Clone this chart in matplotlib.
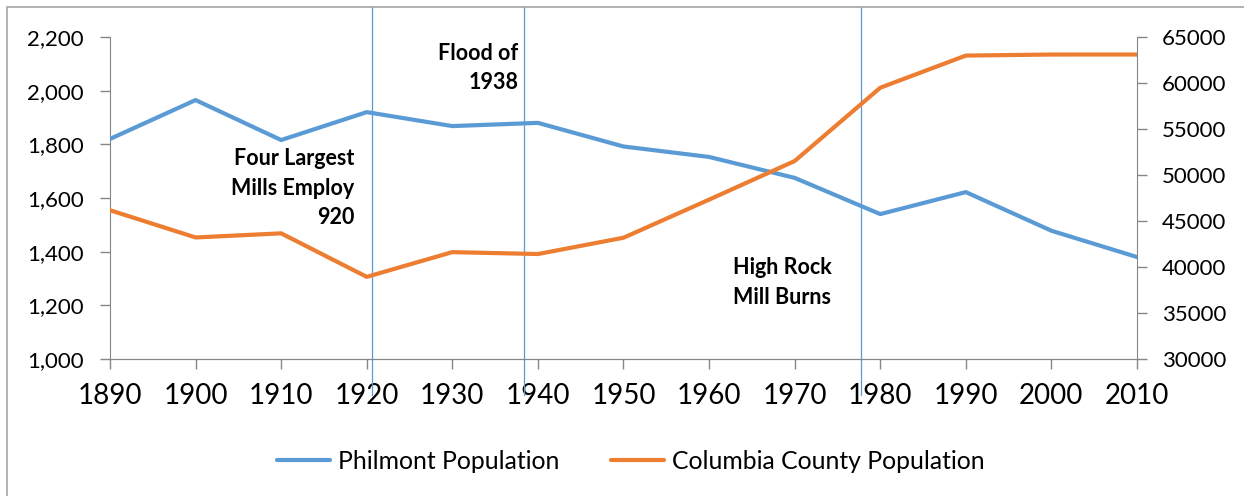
import matplotlib.pyplot as plt
from matplotlib.patches import Rectangle
from matplotlib.ticker import FuncFormatter

plt.rcParams['font.family'] = ['Lato', 'DejaVu Sans']

years = [1890, 1900, 1910, 1920, 1930, 1940, 1950, 1960, 1970, 1980, 1990, 2000, 2010]
philmont = [1820, 1965, 1816, 1920, 1868, 1880, 1792, 1753, 1675, 1540, 1622, 1478, 1380]
columbia = [46172, 43211, 43658, 38930, 41617, 41410, 43182, 47322, 51519, 59487, 62982, 63094, 63096]

event_years = [1920.6, 1938.4, 1977.8]
event_text = ["Four Largest\nMills Employ\n920", "Flood of\n1938", "High Rock\nMill Burns"]
event_pos = [(1918.6, 1637), (1937.7, 2084), (1974.3, 1285)]  # right edge x, middle y

blue = '#5B9BD5'
orange = '#ED7D31'
grey = '#868686'

fig = plt.figure(figsize=(12.44, 4.96), dpi=100)
ax = fig.add_axes([0.0884, 0.2762, 0.8256, 0.6492])
ax2 = ax.twinx()

l1, = ax.plot(years, philmont, color=blue, lw=3, solid_capstyle='round', zorder=3)
l2, = ax2.plot(years, columbia, color=orange, lw=3, solid_capstyle='round')

ax.set_xlim(1890, 2010)
ax.set_ylim(1000, 2200)
ax2.set_ylim(30000, 65000)
ax.set_xticks(years)
ax.set_yticks(range(1000, 2201, 200))
ax2.set_yticks(range(30000, 65001, 5000))
ax.yaxis.set_major_formatter(FuncFormatter(lambda v, p: f'{int(v):,}'))

for a in (ax, ax2):
    for s in a.spines.values():
        s.set_color(grey)
    a.spines['top'].set_visible(False)
    a.tick_params(colors=grey, labelcolor='black', length=7, width=1)
ax.spines['right'].set_visible(False)
ax2.spines['left'].set_visible(False)
ax.tick_params(axis='y', labelsize=16, pad=12)
ax.tick_params(axis='x', labelsize=20, pad=10)
ax2.tick_params(axis='y', labelsize=16, pad=11)

# event markers
for yr in event_years:
    ax.plot([yr, yr], [1.093, -0.112], color=blue, lw=0.9,
            transform=ax.get_xaxis_transform(), clip_on=False, zorder=4)

for (x, y), txt in zip(event_pos, event_text):
    ax.text(x, y, txt, ha='right', va='center', fontsize=15.5, fontweight='bold',
            linespacing=1.5)

fig.legend([l1, l2], ['Philmont Population', 'Columbia County Population'],
           loc='center', bbox_to_anchor=(0.507, 0.07), ncol=2, frameon=False,
           fontsize=17.8, handlelength=2.15, columnspacing=2.1, handletextpad=0.3)

fig.patches.append(Rectangle((7 / 1244, -0.05), 1.05, 1 - 7 / 496 + 0.05,
                             transform=fig.transFigure, fill=False,
                             edgecolor='#A6A6A6', lw=1.2))

fig.savefig('out.png', dpi=100)
